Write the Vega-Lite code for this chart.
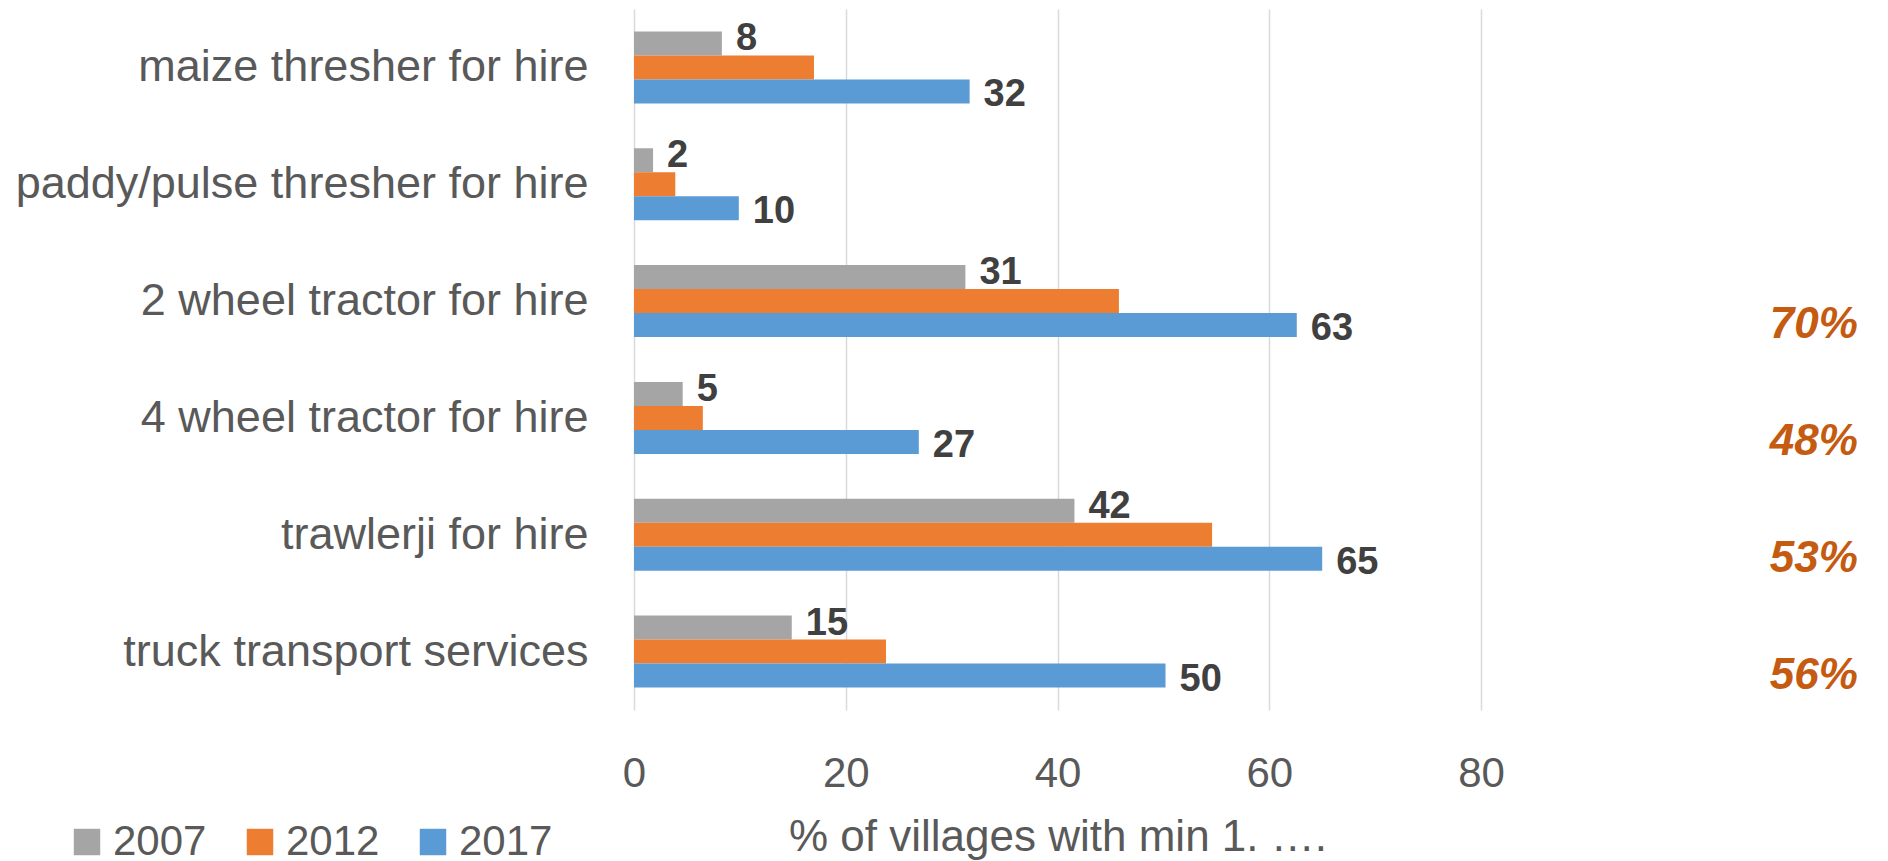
{
  "$schema": "https://vega.github.io/schema/vega-lite/v6.json",
  "width": 847,
  "height": 701,
  "autosize": {"type": "none"},
  "padding": {"left": 634, "top": 9, "right": 407, "bottom": 151},
  "background": "white",
  "config": {"font": "Liberation Sans", "view": {"stroke": null}},
  "datasets": {
    "bars": [
      {"category": "maize thresher for hire", "year": "2007", "value": 8.3},
      {"category": "maize thresher for hire", "year": "2012", "value": 17.0},
      {"category": "maize thresher for hire", "year": "2017", "value": 31.7},
      {"category": "paddy/pulse thresher for hire", "year": "2007", "value": 1.8},
      {"category": "paddy/pulse thresher for hire", "year": "2012", "value": 3.9},
      {"category": "paddy/pulse thresher for hire", "year": "2017", "value": 9.9},
      {"category": "2 wheel tractor for hire", "year": "2007", "value": 31.3},
      {"category": "2 wheel tractor for hire", "year": "2012", "value": 45.8},
      {"category": "2 wheel tractor for hire", "year": "2017", "value": 62.6},
      {"category": "4 wheel tractor for hire", "year": "2007", "value": 4.6},
      {"category": "4 wheel tractor for hire", "year": "2012", "value": 6.5},
      {"category": "4 wheel tractor for hire", "year": "2017", "value": 26.9},
      {"category": "trawlerji for hire", "year": "2007", "value": 41.6},
      {"category": "trawlerji for hire", "year": "2012", "value": 54.6},
      {"category": "trawlerji for hire", "year": "2017", "value": 65.0},
      {"category": "truck transport services", "year": "2007", "value": 14.9},
      {"category": "truck transport services", "year": "2012", "value": 23.8},
      {"category": "truck transport services", "year": "2017", "value": 50.2}
    ],
    "pcts": [
      {"category": "2 wheel tractor for hire", "year": "2017", "pct": "70%"},
      {"category": "4 wheel tractor for hire", "year": "2017", "pct": "48%"},
      {"category": "trawlerji for hire", "year": "2017", "pct": "53%"},
      {"category": "truck transport services", "year": "2017", "pct": "56%"}
    ]
  },
  "layer": [
    {
      "data": {"name": "bars"},
      "mark": {"type": "bar"},
      "encoding": {
        "y": {
          "field": "category", "type": "nominal",
          "sort": ["maize thresher for hire", "paddy/pulse thresher for hire", "2 wheel tractor for hire", "4 wheel tractor for hire", "trawlerji for hire", "truck transport services"],
          "scale": {"paddingInner": 0.384, "paddingOuter": 0.192},
          "axis": {"title": null, "ticks": false, "domain": false, "grid": false, "labelPadding": 46, "labelFontSize": 45, "labelColor": "#595959", "labelLimit": 800}
        },
        "yOffset": {"field": "year", "type": "nominal", "sort": ["2007", "2012", "2017"]},
        "x": {
          "field": "value", "type": "quantitative",
          "scale": {"domain": [0, 80], "nice": false},
          "axis": {"values": [0, 20, 40, 60, 80], "title": "% of villages with min 1. ….", "grid": true, "gridColor": "#D9D9D9", "gridWidth": 1.5, "ticks": false, "domain": false, "labelFontSize": 42, "labelColor": "#595959", "labelPadding": 43, "labelFlush": false, "labelOverlap": false, "titleFontSize": 44, "titleFontWeight": "normal", "titleColor": "#595959", "titlePadding": 21}
        },
        "color": {
          "field": "year", "type": "nominal",
          "scale": {"domain": ["2007", "2012", "2017"], "range": ["#A5A5A5", "#ED7D31", "#5B9BD5"]},
          "legend": {"title": null, "orient": "none", "legendX": -568, "legendY": 812, "direction": "horizontal", "symbolType": "square", "symbolSize": 700, "symbolStrokeWidth": 0, "labelFontSize": 42, "labelColor": "#595959", "labelOffset": 5, "columnPadding": 32, "padding": 0}
        }
      }
    },
    {
      "data": {"name": "bars"},
      "transform": [{"filter": "datum.year == '2007'"}],
      "mark": {"type": "text", "align": "left", "baseline": "alphabetic", "dx": 14, "dy": 7, "fontSize": 38, "fontWeight": "bold", "color": "#404040"},
      "encoding": {
        "y": {"field": "category", "type": "nominal", "sort": ["maize thresher for hire", "paddy/pulse thresher for hire", "2 wheel tractor for hire", "4 wheel tractor for hire", "trawlerji for hire", "truck transport services"]},
        "yOffset": {"field": "year", "type": "nominal", "sort": ["2007", "2012", "2017"]},
        "x": {"field": "value", "type": "quantitative"},
        "text": {"field": "value", "type": "quantitative", "format": ".0f"}
      }
    },
    {
      "data": {"name": "bars"},
      "transform": [{"filter": "datum.year == '2017'"}],
      "mark": {"type": "text", "align": "left", "baseline": "alphabetic", "dx": 14, "dy": 15, "fontSize": 38, "fontWeight": "bold", "color": "#404040"},
      "encoding": {
        "y": {"field": "category", "type": "nominal", "sort": ["maize thresher for hire", "paddy/pulse thresher for hire", "2 wheel tractor for hire", "4 wheel tractor for hire", "trawlerji for hire", "truck transport services"]},
        "yOffset": {"field": "year", "type": "nominal", "sort": ["2007", "2012", "2017"]},
        "x": {"field": "value", "type": "quantitative"},
        "text": {"field": "value", "type": "quantitative", "format": ".0f"}
      }
    },
    {
      "data": {"name": "pcts"},
      "mark": {"type": "text", "align": "right", "baseline": "alphabetic", "dy": 13, "fontSize": 44, "fontWeight": "bold", "fontStyle": "italic", "color": "#C55A11"},
      "encoding": {
        "y": {"field": "category", "type": "nominal", "sort": ["maize thresher for hire", "paddy/pulse thresher for hire", "2 wheel tractor for hire", "4 wheel tractor for hire", "trawlerji for hire", "truck transport services"]},
        "yOffset": {"field": "year", "type": "nominal", "sort": ["2007", "2012", "2017"]},
        "x": {"datum": 115.6, "type": "quantitative"},
        "text": {"field": "pct", "type": "nominal"}
      }
    }
  ]
}
